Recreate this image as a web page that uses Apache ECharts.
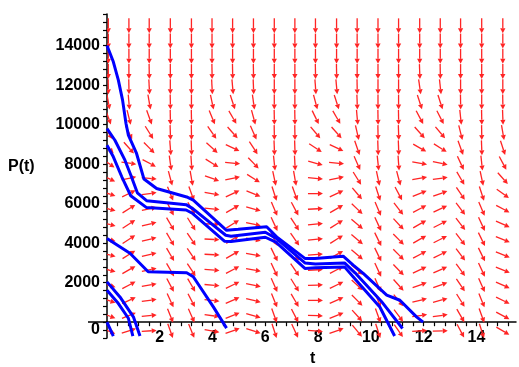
<!doctype html>
<html>
<head>
<meta charset="utf-8">
<title>P(t)</title>
<script src="https://cdn.jsdelivr.net/npm/echarts@6/dist/echarts.min.js"></script>
</head>
<body style="margin:0;padding:0;background:#fff;">
<div id="tb" style="width:519px;height:367px;"></div>
<script>
// direction field grid: columns in t, rows in P (top to bottom)
var fieldT = [0.05, 0.83, 1.6, 2.4, 3.2, 3.98, 4.76, 5.55, 6.34, 7.12, 7.9, 8.7, 9.48, 10.27, 11.05, 11.85, 12.63, 13.4, 14.2, 15.0];
var fieldP = [15000, 14228, 13456, 12684, 11912, 11140, 10368, 9596, 8824, 8052, 7280, 6508, 5736, 4964, 4192, 3420, 2648, 1876, 1104, 332, -440];
// arrow angle (degrees on screen) per column, rows top -> bottom
var fieldAngles = [
  [-90,-90,-90,-90,-89,-80,-70,-57,-45,-35,-25,-18,-15,-14,-14,-14,-15,-16,-18,-20,-22],
  [-90,-90,-90,-90,-89,-85,-76,-64,-48,-8,12,26,32,33,33,32,30,28,25,22,18],
  [-90,-90,-90,-89,-87,-80,-70,-58,-45,-28,-5,8,12,14,14,13,12,10,8,5,3],
  [-90,-90,-90,-90,-90,-89,-89,-88,-86,-82,-75,-68,-63,-60,-60,-60,-60,-62,-65,-68,-70],
  [-90,-90,-90,-90,-90,-90,-89,-89,-88,-86,-80,-70,-62,-58,-56,-56,-57,-60,-63,-66,-68],
  [-90,-90,-90,-89,-87,-78,-68,-55,-42,-32,-20,-10,-5,-3,-3,-3,-4,-5,-6,-8,-10],
  [-90,-90,-90,-89,-85,-72,-60,-48,-25,-5,12,25,30,32,32,30,28,26,24,22,20],
  [-90,-90,-90,-89,-88,-82,-75,-66,-57,-46,-32,-22,-15,-12,-10,-10,-10,-12,-14,-16,-18],
  [-90,-90,-90,-90,-90,-90,-89,-89,-88,-84,-78,-72,-67,-65,-64,-64,-65,-66,-68,-70,-72],
  [-90,-90,-90,-90,-90,-90,-89,-89,-88,-87,-80,-70,-62,-57,-55,-55,-56,-58,-60,-63,-65],
  [-90,-90,-90,-89,-86,-75,-64,-50,-33,-15,-5,0,3,5,5,4,3,2,0,-2,-4],
  [-90,-90,-90,-89,-85,-72,-60,-48,-25,-5,12,25,30,32,32,30,28,26,24,22,20],
  [-90,-90,-90,-90,-89,-88,-85,-77,-71,-66,-58,-50,-44,-40,-40,-40,-41,-43,-45,-48,-50],
  [-90,-90,-90,-90,-90,-90,-89,-89,-88,-84,-78,-72,-67,-65,-64,-64,-65,-66,-68,-70,-72],
  [-90,-90,-90,-90,-90,-90,-89,-88,-88,-86,-75,-62,-52,-47,-45,-45,-46,-48,-50,-53,-55],
  [-90,-90,-90,-88,-82,-72,-62,-48,-30,-10,10,22,28,30,30,28,25,20,14,8,3],
  [-90,-90,-90,-89,-84,-72,-63,-50,-32,-12,8,20,25,27,27,26,24,20,15,8,2],
  [-90,-90,-90,-90,-90,-89,-84,-76,-70,-65,-60,-56,-53,-52,-52,-53,-54,-56,-58,-60,-62],
  [-90,-90,-90,-90,-90,-90,-89,-89,-88,-84,-78,-72,-67,-65,-64,-64,-65,-66,-68,-70,-72],
  [-90,-90,-90,-90,-90,-89,-88,-80,-72,-62,-48,-36,-28,-24,-22,-22,-22,-24,-26,-28,-30]
];

// solution curves [t, P]
var curveA = [[0,14000],[0.24,13180],[0.43,12250],[0.59,11240],[0.72,10060],[0.81,9470],[1.12,8540],[1.4,7250],[1.88,6770],[3.02,6340],[3.27,6180],[4.53,4650],[4.97,4700],[6.05,4830],[6.43,4320],[7.5,3230],[7.88,3230],[8.95,3340],[9.33,2890],[9.71,2470],[10.6,1370],[11.1,1110],[11.73,270],[11.98,0]];
var curveB = [[0,9800],[0.3,9210],[0.68,8200],[0.9,7450],[1.15,6550],[1.5,6150],[3.0,5950],[3.25,5750],[4.5,4400],[4.7,4350],[6.0,4550],[6.4,4250],[7.5,3000],[7.9,2950],[9.0,3000],[9.4,2500],[10.4,1050],[11.2,-320]];
var curveC = [[0,8960],[0.24,8370],[0.56,7360],[0.9,6400],[1.5,5800],[3.0,5680],[3.25,5500],[4.45,4100],[4.7,4080],[6.0,4300],[6.4,4050],[7.5,2720],[7.9,2750],[9.0,2800],[9.55,1960],[10.34,770],[10.9,-700]];
var curveD = [[0,4240],[0.87,3490],[1.56,2550],[3.02,2500],[3.27,2300],[4.03,775],[4.53,-300]];
var curveE = [[0,2040],[0.49,1280],[1.0,270],[1.25,-700]];
var curveF = [[0,1620],[0.4,1000],[0.81,200],[0.98,-700]];
var curveG = [[0,0],[0.24,-700]];

var curves = [curveA, curveB, curveC, curveD, curveE, curveF, curveG];

var fieldData = [];
for (var i = 0; i < fieldT.length; i++) {
  for (var j = 0; j < fieldP.length; j++) {
    fieldData.push([fieldT[i], fieldP[j], fieldAngles[i][j]]);
  }
}

// arrow: shaft + small filled head, centred on the grid point
function renderArrow(params, api) {
  var c = api.coord([api.value(0), api.value(1)]);
  var a = api.value(2) * Math.PI / 180;
  var dx = Math.cos(a), dy = -Math.sin(a);
  var L = 15, h = 5, w = 2.6;
  var x0 = c[0] - dx * L / 2, y0 = c[1] - dy * L / 2;
  var x1 = c[0] + dx * L / 2, y1 = c[1] + dy * L / 2;
  var bx = x1 - dx * h, by = y1 - dy * h;
  return {
    type: 'group',
    children: [
      { type: 'line', shape: { x1: x0, y1: y0, x2: bx, y2: by }, style: { stroke: '#ff2424', lineWidth: 1.3 } },
      { type: 'polygon', shape: { points: [[x1, y1], [bx - dy * w, by + dx * w], [bx + dy * w, by - dx * w]] }, style: { fill: '#ff2424' } }
    ]
  };
}

var font = 'Liberation Sans, Arial, sans-serif';
var series = [{
  type: 'custom',
  renderItem: renderArrow,
  data: fieldData,
  clip: true,
  silent: true,
  z: 2
}];
curves.forEach(function (c) {
  series.push({
    type: 'line',
    data: c,
    showSymbol: false,
    clip: true,
    silent: true,
    lineStyle: { color: '#0000ff', width: 3 },
    z: 3
  });
});

var chart = echarts.init(document.getElementById('tb'));
chart.setOption({
  animation: false,
  grid: { left: 107, top: 14, width: 409, height: 324, containLabel: false, outerBoundsMode: 'none' },
  xAxis: {
    type: 'value', min: 0, max: 15.5, interval: 0.4,
    axisLine: { onZero: true, lineStyle: { color: '#000', width: 1.5 } },
    axisTick: { length: 4, lineStyle: { color: '#000', width: 1.2 } },
    splitLine: { show: false },
    axisLabel: {
      color: '#000', fontWeight: 'bold', fontSize: 16, fontFamily: font, margin: -8,
      showMaxLabel: false,
      formatter: function (v) {
        var r = Math.round(v * 10) / 10;
        return (r > 0 && r % 2 === 0) ? String(r) : '';
      }
    }
  },
  yAxis: {
    type: 'value', min: -800, max: 15600, interval: 400,
    axisLine: { onZero: false, lineStyle: { color: '#000', width: 1.5 } },
    axisTick: { length: 4, lineStyle: { color: '#000', width: 1.2 } },
    splitLine: { show: false },
    axisLabel: {
      color: '#000', fontWeight: 'bold', fontSize: 16, fontFamily: font, margin: 7,
      formatter: function (v) {
        return (v > 0 && v % 2000 === 0) ? String(v) : '';
      }
    }
  },
  graphic: [
    { type: 'text', left: 8, top: 159, style: { text: 'P(t)', font: 'bold 16px ' + font, fill: '#000' } },
    { type: 'text', left: 310, top: 351, style: { text: 't', font: 'bold 16px ' + font, fill: '#000' } },
    { type: 'text', right: 419, top: 322, style: { text: '0', font: 'bold 16px ' + font, fill: '#000' } },
    { type: 'line', shape: { x1: 88, y1: 322, x2: 107, y2: 322 }, style: { stroke: '#000', lineWidth: 1.5 } }
  ],
  series: series
});
</script>
</body>
</html>
